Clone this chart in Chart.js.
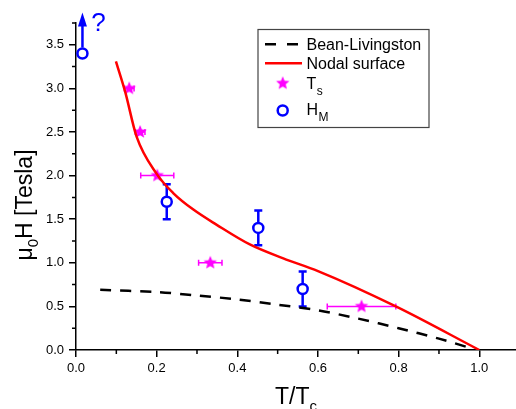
<!DOCTYPE html>
<html>
<head>
<meta charset="utf-8">
<script src="https://cdn.jsdelivr.net/npm/chart.js@4.4.1/dist/chart.umd.min.js"></script>
<style>
  html, body { margin: 0; padding: 0; background: #fff; overflow: hidden; }
  canvas { display: block; }
</style>
</head>
<body>
<!-- 画布比窗口宽 4px：x 轴右侧的刻度留白落在窗口外 -->
<canvas id="c" width="520" height="409"></canvas>
<script>
// 曲线数据
const blX = [0.06, 0.2, 0.3, 0.4, 0.5, 0.6, 0.7, 0.8, 0.9, 0.98];
const blY = [0.69, 0.665, 0.625, 0.58, 0.52, 0.455, 0.36, 0.25, 0.13, 0.02];

const nodalX = [0.099, 0.122, 0.150, 0.200, 0.241, 0.291, 0.349, 0.431, 0.514, 0.6, 0.793, 1.0];
const nodalY = [3.31, 2.96, 2.45, 2.02, 1.80, 1.61, 1.435, 1.21, 1.05, 0.905, 0.50, 0.0];

// 测量点
const tsX = [0.132, 0.159, 0.2015, 0.333, 0.708];
const tsY = [3.0, 2.5, 2.0, 1.0, 0.5];
const tsXErr = [0.012, 0.012, 0.041, 0.029, 0.085];

const hmX = [0.016, 0.225, 0.452, 0.562];
const hmY = [3.4, 1.7, 1.4, 0.7];
const hmYErr = [0, 0.2, 0.2, 0.2];
const arrowTop = 3.87;   // 第一个点的箭头终点

// 刻度
const xMax = 1.091;
const xTicks = [0, 0.2, 0.4, 0.6, 0.8, 1.0];
const xMinor = [0.1, 0.3, 0.5, 0.7, 0.9];
const yTicks = [0, 0.5, 1.0, 1.5, 2.0, 2.5, 3.0, 3.5];
const yMinor = [0.25, 0.75, 1.25, 1.75, 2.25, 2.75, 3.25, 3.75];

const legendLabels = ["Bean-Livingston", "Nodal surface", "T", "H"];
const legendSubs = ["", "", "s", "M"];

const FONT = "'Liberation Sans', Arial, sans-serif";
const MAGENTA = "#ff00ff", BLUE = "#0000ff", RED = "#ff0000";

function pts(xs, ys) { return xs.map((x, i) => ({ x: x, y: ys[i] })); }

function makeStar(r, color) {
  const size = Math.ceil(r * 2 + 2);
  const cv = document.createElement("canvas");
  cv.width = size; cv.height = size;
  const g = cv.getContext("2d");
  g.fillStyle = color;
  g.beginPath();
  for (let i = 0; i < 10; i++) {
    const rr = i % 2 === 0 ? r : r * 0.45;
    const a = -Math.PI / 2 + i * Math.PI / 5;
    const px = size / 2 + rr * Math.cos(a), py = size / 2 + rr * Math.sin(a);
    if (i === 0) g.moveTo(px, py); else g.lineTo(px, py);
  }
  g.closePath();
  g.fill();
  return cv;
}
const starImg = makeStar(7, MAGENTA);

// 误差棒、次刻度、图例、标题
const extras = {
  id: "extras",
  beforeDatasetsDraw(chart) {
    const ctx = chart.ctx, xs = chart.scales.x, ys = chart.scales.y;
    ctx.save();
    ctx.strokeStyle = MAGENTA;
    ctx.lineWidth = 1.5;
    tsX.forEach((x, i) => {
      const y = ys.getPixelForValue(tsY[i]);
      const x1 = xs.getPixelForValue(x - tsXErr[i]), x2 = xs.getPixelForValue(x + tsXErr[i]);
      ctx.beginPath();
      ctx.moveTo(x1, y); ctx.lineTo(x2, y);
      ctx.moveTo(x1, y - 3); ctx.lineTo(x1, y + 3);
      ctx.moveTo(x2, y - 3); ctx.lineTo(x2, y + 3);
      ctx.stroke();
    });
    ctx.strokeStyle = BLUE;
    ctx.lineWidth = 2.5;
    hmX.forEach((x, i) => {
      if (!hmYErr[i]) return;
      const px = xs.getPixelForValue(x);
      const y1 = ys.getPixelForValue(hmY[i] - hmYErr[i]), y2 = ys.getPixelForValue(hmY[i] + hmYErr[i]);
      ctx.beginPath();
      ctx.moveTo(px, y1); ctx.lineTo(px, y2);
      ctx.moveTo(px - 4, y1); ctx.lineTo(px + 4, y1);
      ctx.moveTo(px - 4, y2); ctx.lineTo(px + 4, y2);
      ctx.stroke();
    });
    ctx.restore();
  },
  afterDraw(chart) {
    const ctx = chart.ctx, xs = chart.scales.x, ys = chart.scales.y;
    const a = chart.chartArea;
    ctx.save();
    // 次刻度
    ctx.strokeStyle = "#000";
    ctx.lineWidth = 1.5;
    ctx.beginPath();
    xMinor.forEach(v => {
      const p = xs.getPixelForValue(v);
      ctx.moveTo(p, a.bottom); ctx.lineTo(p, a.bottom + 4);
    });
    yMinor.forEach(v => {
      const p = ys.getPixelForValue(v);
      ctx.moveTo(a.left, p); ctx.lineTo(a.left - 4, p);
    });
    ctx.stroke();

    // 箭头
    const ax = xs.getPixelForValue(hmX[0]);
    const ay0 = ys.getPixelForValue(hmY[0]) - 6;
    const tip = ys.getPixelForValue(arrowTop);
    ctx.strokeStyle = BLUE; ctx.fillStyle = BLUE; ctx.lineWidth = 2.5;
    ctx.beginPath(); ctx.moveTo(ax, ay0); ctx.lineTo(ax, tip + 10); ctx.stroke();
    ctx.beginPath();
    ctx.moveTo(ax, tip); ctx.lineTo(ax - 4.5, tip + 14); ctx.lineTo(ax + 4.5, tip + 14);
    ctx.closePath(); ctx.fill();
    ctx.font = "26px " + FONT;
    ctx.textAlign = "center"; ctx.textBaseline = "alphabetic";
    ctx.fillText("?", ax + 16, 31);

    // 图例
    ctx.strokeStyle = "#444"; ctx.lineWidth = 1.2;
    ctx.strokeRect(258, 29.5, 171, 98);
    ctx.strokeStyle = "#000"; ctx.lineWidth = 2.5;
    ctx.beginPath();
    ctx.moveTo(265, 44.3); ctx.lineTo(276, 44.3);
    ctx.moveTo(287, 44.3); ctx.lineTo(298, 44.3);
    ctx.stroke();
    ctx.strokeStyle = RED;
    ctx.beginPath(); ctx.moveTo(265, 63.3); ctx.lineTo(302, 63.3); ctx.stroke();
    ctx.drawImage(starImg, 282.7 - starImg.width / 2, 83.3 - starImg.height / 2);
    ctx.strokeStyle = BLUE;
    ctx.fillStyle = "#fff";
    ctx.beginPath(); ctx.arc(282.7, 110.5, 5, 0, Math.PI * 2); ctx.fill(); ctx.stroke();

    const base = [49.5, 68.5, 88.5, 114.5];
    ctx.fillStyle = "#000"; ctx.textAlign = "left";
    legendLabels.forEach((t, i) => {
      ctx.font = "16px " + FONT;
      ctx.fillText(t, 306.5, base[i]);
      if (legendSubs[i]) {
        const w = ctx.measureText(t).width;
        ctx.font = "12px " + FONT;
        ctx.fillText(legendSubs[i], 306.5 + w + 0.5, base[i] + 6);
      }
    });

    // 坐标轴标题
    function drawParts(parts, cx, cy) {
      let total = 0;
      parts.forEach(p => { ctx.font = p.size + "px " + FONT; p.w = ctx.measureText(p.t).width; total += p.w; });
      let x = cx - total / 2;
      parts.forEach(p => {
        ctx.font = p.size + "px " + FONT;
        ctx.fillText(p.t, x, cy + p.dy);
        x += p.w;
      });
    }
    ctx.textAlign = "left";
    drawParts([{ t: "T/T", size: 23, dy: 0 }, { t: "c", size: 15, dy: 7 }], (a.left + a.right) / 2, 404);
    ctx.translate(32, 205);
    ctx.rotate(-Math.PI / 2);
    drawParts([{ t: "\u03bc", size: 23, dy: 0 }, { t: "0", size: 15, dy: 6 }, { t: "H [Tesla]", size: 23, dy: 0 }], 0, 0);
    ctx.restore();
  }
};

const axisCommon = {
  type: "linear",
  border: { color: "#000", width: 1.5 },
};

new Chart(document.getElementById("c"), {
  type: "scatter",
  data: {
    datasets: [
      {
        label: "Bean-Livingston", data: pts(blX, blY), showLine: true,
        borderColor: "#000", borderWidth: 2.5, borderDash: [11, 9], pointRadius: 0, tension: 0.3
      },
      {
        label: "Nodal surface", data: pts(nodalX, nodalY), showLine: true,
        borderColor: RED, borderWidth: 2.5, pointRadius: 0, cubicInterpolationMode: "monotone"
      },
      {
        label: "Ts", data: pts(tsX, tsY), pointStyle: starImg, pointRadius: 7
      },
      {
        label: "HM", data: pts(hmX, hmY), pointStyle: "circle", pointRadius: 5,
        borderColor: BLUE, backgroundColor: "#fff", borderWidth: 2.5
      }
    ]
  },
  options: {
    responsive: false,
    animation: false,
    layout: { autoPadding: false, padding: { top: 23, left: 0, right: 0, bottom: 0 } },
    plugins: { legend: { display: false }, tooltip: { enabled: false } },
    scales: {
      x: Object.assign({}, axisCommon, {
        min: 0, max: xMax,
        // 末端加一个空白刻度，避免右侧留白
        afterBuildTicks: s => { s.ticks = xTicks.concat([xMax]).map(v => ({ value: v })); },
        afterFit: s => { s.height = 59; },
        grid: {
          drawOnChartArea: false, tickLength: 7, lineWidth: 1.5,
          tickColor: c => (c.tick && c.tick.value > 1.05 ? "rgba(0,0,0,0)" : "#000")
        },
        ticks: {
          callback: v => (v > 1.05 ? "" : Number(v).toFixed(1)), autoSkip: false, maxRotation: 0,
          color: "#000", padding: 4, font: { family: FONT, size: 13 }
        }
      }),
      y: Object.assign({}, axisCommon, {
        min: 0, max: 3.75,
        afterBuildTicks: s => { s.ticks = yTicks.map(v => ({ value: v })); },
        afterFit: s => { s.width = 76; },
        grid: { drawOnChartArea: false, tickLength: 7, color: "#000", lineWidth: 1.5 },
        ticks: {
          callback: v => Number(v).toFixed(1), autoSkip: false,
          color: "#000", padding: 5, font: { family: FONT, size: 13 }
        }
      })
    }
  },
  plugins: [extras]
});
</script>
</body>
</html>
